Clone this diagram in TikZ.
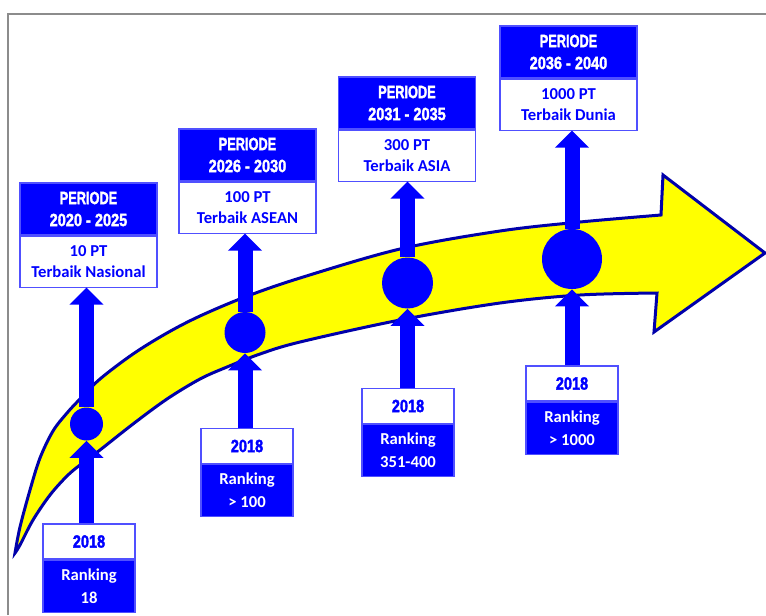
\documentclass[tikz,border=0pt]{standalone}
\usepackage{fontspec}
\setmainfont{Carlito}
\newfontfamily\condfont[UprightFont={* Bold},BoldFont={* Bold},FakeBold=2]{Liberation Sans}
\usetikzlibrary{arrows.meta}
\definecolor{pblue}{RGB}{0,0,255}
\definecolor{bordblue}{RGB}{80,80,255}
\definecolor{edgeblue}{RGB}{0,0,170}
\definecolor{yel}{RGB}{255,255,0}
\definecolor{framegray}{RGB}{140,140,140}
\newcommand\cl[1]{\scalebox{0.72}[1]{#1}}
\newcommand\cd[1]{\scalebox{0.82}[1]{#1}}
\begin{document}
\begin{tikzpicture}[x=0.75pt,y=-0.75pt,
  tophead/.style={draw=bordblue, line width=0.8pt, fill=pblue, text=white,
    minimum width=102.75pt, minimum height=39pt, inner sep=0pt, align=center,
    font=\condfont\fontsize{13.3}{16.5}\selectfont},
  topbody/.style={draw=bordblue, line width=0.8pt, fill=white, text=pblue,
    minimum width=102.75pt, minimum height=38.25pt, inner sep=0pt, align=center,
    font=\bfseries\fontsize{12.5}{16}\selectfont},
  botwhite/.style={draw=bordblue, line width=0.8pt, fill=white, text=pblue,
    minimum width=69pt, minimum height=26.25pt, inner sep=0pt, align=center,
    font=\condfont\fontsize{13.3}{16.5}\selectfont},
  botblue/.style={draw=bordblue, line width=0.8pt, fill=pblue, text=white,
    minimum width=69pt, minimum height=39pt, inner sep=0pt, align=center,
    font=\bfseries\fontsize{12.5}{17.25}\selectfont},
  dot/.style={circle, fill=pblue, inner sep=0pt},
  blk/.style={draw=pblue, line width=11.25pt, -{Triangle[width=24.75pt,length=12.75pt]}},
  bigarrow/.style={draw=edgeblue, line width=2.25pt, fill=yel, line join=miter},
  frame/.style={draw=framegray, line width=1.5pt}
]
\useasboundingbox (0,0) rectangle (766,615);
% frame
\draw[frame] (8,615) -- (8,14) -- (766,14);
% big curved arrow
\draw[bigarrow] (15,553) -- plot[smooth,tension=0.55] coordinates {(15,553) (20,527) (30,490) (40,458) (53,431) (67,413) (80,399) (100,379) (133,354) (167,333) (200,316) (245,297) (300,278) (400,249) (500,231) (580,222) (661,215)}
  -- (663,175) -- (765,253) -- (654,332) -- (657,293)
  -- plot[smooth,tension=0.55] coordinates {(657,293) (580,295) (500,303) (400,320) (300,342) (260,354) (227,367) (200,379) (167,399) (133,424) (100,450) (80,465) (67,476) (50,495) (33,520) (20,545) (15,553)} -- cycle;
% circles
\node[dot, minimum size=24.75pt] (c1) at (86.5,424) {};
\node[dot, minimum size=30.75pt] (c2) at (245,332.5) {};
\node[dot, minimum size=38.25pt] (c3) at (407.5,283) {};
\node[dot, minimum size=45pt] (c4) at (572,259) {};
% top boxes
\node[tophead] (h1) at (88.5,209) {\cl{PERIODE}\\\cd{2020 - 2025}};
\node[topbody, anchor=north] (t1) at (h1.south) {10 PT\\Terbaik Nasional};
\node[tophead] (h2) at (247.5,155) {\cl{PERIODE}\\\cd{2026 - 2030}};
\node[topbody, anchor=north] (t2) at (h2.south) {100 PT\\Terbaik ASEAN};
\node[tophead] (h3) at (407,103) {\cl{PERIODE}\\\cd{2031 - 2035}};
\node[topbody, anchor=north] (t3) at (h3.south) {300 PT\\Terbaik ASIA};
\node[tophead] (h4) at (568.5,52) {\cl{PERIODE}\\\cd{2036 - 2040}};
\node[topbody, anchor=north] (t4) at (h4.south) {1000 PT\\Terbaik Dunia};
% bottom boxes
\node[botwhite] (w1) at (89,541.5) {\cd{2018}};
\node[botblue, anchor=north] (r1) at (w1.south) {Ranking\\18};
\node[botwhite] (w2) at (247,446) {\cd{2018}};
\node[botblue, anchor=north] (r2) at (w2.south) {Ranking\\> 100};
\node[botwhite] (w3) at (408,406) {\cd{2018}};
\node[botblue, anchor=north] (r3) at (w3.south) {Ranking\\351-400};
\node[botwhite] (w4) at (572,383.5) {\cd{2018}};
\node[botblue, anchor=north] (r4) at (w4.south) {Ranking\\> 1000};
% arrows
\foreach \i in {1,2,3,4}{
  \draw[blk] (c\i |- w\i.north) -- (c\i.south);
  \draw[blk] (c\i.north) -- (c\i |- t\i.south);
}
\end{tikzpicture}
\end{document}
